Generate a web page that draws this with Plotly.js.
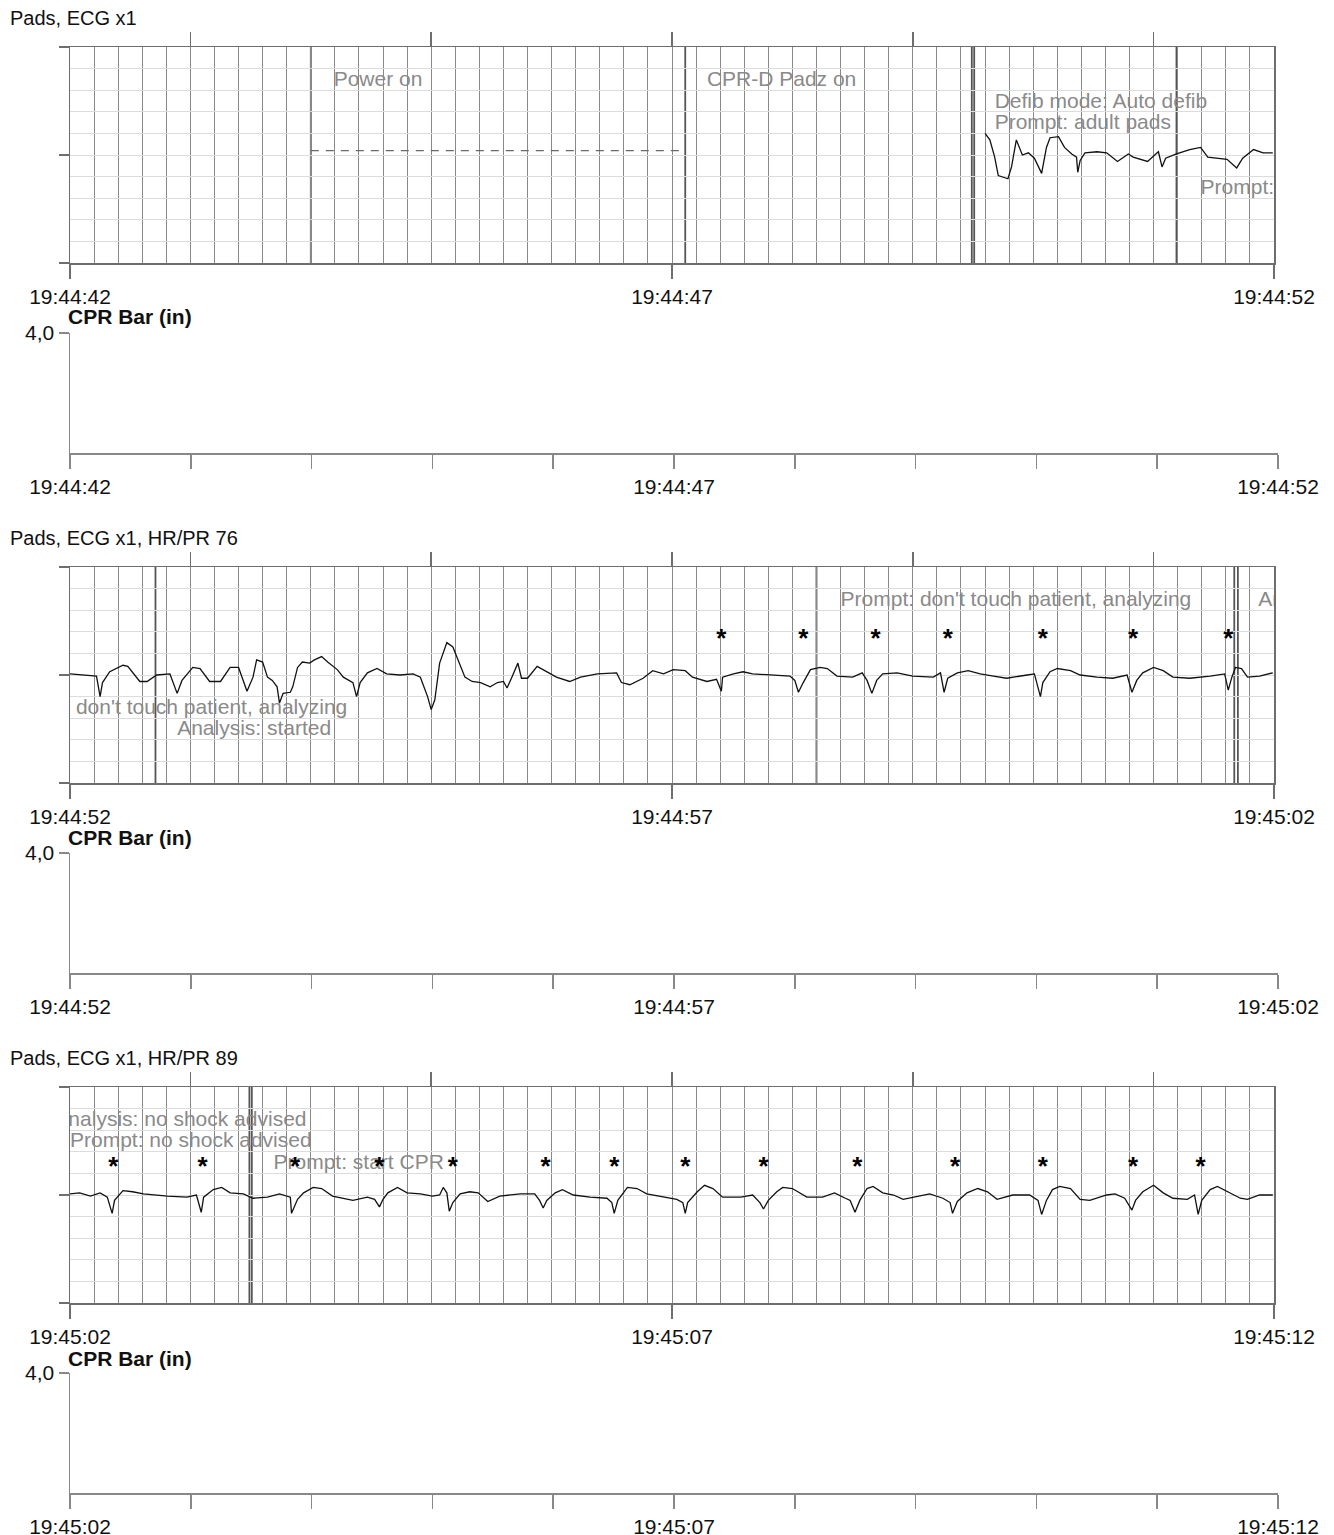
<!DOCTYPE html>
<html>
<head>
<meta charset="utf-8">
<script src="https://cdn.plot.ly/plotly-3.0.1.min.js"></script>
<style>
  html, body { margin: 0; padding: 0; background: #fff; }
  #chart { width: 1334px; height: 1535px; }
</style>
</head>
<body>
<div id="chart"></div>
<script>
// Three 10-second strips; time is seconds from the strip start, ECG in grid units.

// ---------- Strip 1 : 19:44:42 - 19:44:52 ----------
const strip1Labels = ['19:44:42', '19:44:47', '19:44:52'];
const ecg1Time = [7.60,7.64,7.68,7.71,7.79,7.82,7.86,7.87,7.91,7.96,
                  8.01,8.07,8.11,8.14,8.21,8.26,8.32,8.36,8.37,8.39,
                  8.43,8.53,8.61,8.70,8.79,8.83,8.95,9.03,9.04,9.07,
                  9.10,9.19,9.30,9.39,9.45,9.61,9.69,9.74,9.83,9.91,9.99];
const ecg1Value = [0.20,0.14,-0.02,-0.19,-0.22,-0.11,0.14,0.11,0.00,0.02,
                   -0.03,-0.17,0.07,0.16,0.17,0.07,0.01,-0.02,-0.16,-0.05,
                   0.02,0.03,0.02,-0.06,0.01,-0.02,-0.06,0.02,0.03,-0.11,
                   -0.03,0.01,0.05,0.07,-0.02,-0.04,-0.12,-0.03,0.05,0.02,0.02];
const strip1Events = [2.00, 5.11, 7.49, 7.51, 9.19];
const strip1NoteText = ['Power on', 'CPR-D Padz on', 'Defib mode: Auto defib', 'Prompt: adult pads',
                        "Prompt: don't touch patient, analyzing"];
const strip1NoteTime = [2.19, 5.29, 7.68, 7.68, 9.39];
const strip1NoteLevel = [0.69, 0.69, 0.48, 0.29, -0.31];
const strip1BeatTime = [];
const padsPendingTime = [2.00, 5.09];
const padsPendingLevel = [0.04, 0.04];

// ---------- Strip 2 : 19:44:52 - 19:45:02 ----------
const strip2Labels = ['19:44:52', '19:44:57', '19:45:02'];
const ecg2Time = [0.00,0.22,0.25,0.27,0.33,0.44,0.48,0.58,0.64,0.72,
                  0.83,0.89,0.93,1.02,1.08,1.16,1.25,1.33,1.40,1.47,
                  1.52,1.55,1.60,1.64,1.68,1.72,1.74,1.77,1.83,1.85,
                  1.89,1.93,1.99,2.03,2.09,2.14,2.22,2.27,2.35,2.38,
                  2.41,2.47,2.55,2.63,2.74,2.85,2.91,2.97,3.00,3.03,
                  3.07,3.13,3.18,3.22,3.28,3.34,3.41,3.49,3.55,3.60,
                  3.63,3.67,3.72,3.75,3.80,3.88,3.96,4.04,4.15,4.24,
                  4.38,4.54,4.58,4.65,4.76,4.84,4.93,5.01,5.11,5.17,
                  5.29,5.37,5.41,5.42,5.51,5.59,5.67,5.84,5.98,6.02,
                  6.05,6.09,6.15,6.23,6.29,6.37,6.50,6.58,6.62,6.66,
                  6.70,6.75,6.87,7.00,7.17,7.23,7.26,7.29,7.37,7.46,
                  7.56,7.67,7.78,7.95,8.01,8.06,8.08,8.14,8.20,8.31,
                  8.39,8.53,8.66,8.78,8.82,8.86,8.91,9.00,9.08,9.16,
                  9.30,9.47,9.59,9.62,9.65,9.68,9.73,9.78,9.88,9.99];
const ecg2Value = [0.01,-0.01,-0.20,-0.07,0.03,0.09,0.08,-0.06,-0.06,0.00,
                   0.01,-0.17,-0.05,0.07,0.06,-0.06,-0.06,0.07,0.07,-0.15,
                   -0.02,0.14,0.12,-0.02,-0.05,-0.11,-0.26,-0.17,-0.16,-0.11,
                   0.07,0.12,0.11,0.14,0.17,0.12,0.05,-0.02,-0.07,-0.20,
                   -0.07,0.02,0.06,0.01,0.00,0.01,-0.02,-0.20,-0.32,-0.23,
                   0.11,0.30,0.26,0.14,-0.02,-0.06,-0.07,-0.11,-0.07,-0.06,
                   -0.12,-0.02,0.11,-0.03,-0.03,0.08,0.03,-0.02,-0.06,-0.02,
                   0.01,0.02,-0.07,-0.09,-0.03,0.04,0.01,0.05,0.04,-0.02,
                   -0.06,-0.04,-0.15,-0.02,0.01,0.03,0.01,0.00,-0.01,-0.05,
                   -0.16,-0.07,0.05,0.07,0.06,-0.01,-0.02,0.02,-0.05,-0.17,
                   -0.05,0.01,0.02,-0.01,-0.02,0.02,-0.16,-0.03,0.02,0.04,
                   0.01,-0.01,-0.03,0.00,0.01,-0.20,-0.07,0.03,0.06,0.04,
                   0.00,-0.02,-0.03,0.00,-0.16,-0.05,0.02,0.07,0.04,-0.02,
                   -0.03,-0.01,0.01,-0.14,-0.02,0.07,0.06,-0.02,-0.01,0.02];
const strip2Events = [0.71, 6.20, 9.67, 9.70];
const strip2NoteText = ["Prompt: don't touch patient, analyzing", 'Analysis: started',
                        "Prompt: don't touch patient, analyzing", 'Analysis: no shock advised'];
const strip2NoteTime = [-0.61, 0.89, 6.40, 9.87];
const strip2NoteLevel = [-0.31, -0.51, 0.69, 0.69];
const strip2BeatTime = [5.41, 6.09, 6.69, 7.29, 8.08, 8.83, 9.62];

// ---------- Strip 3 : 19:45:02 - 19:45:12 ----------
const strip3Labels = ['19:45:02', '19:45:07', '19:45:12'];
const ecg3Time = [0.00,0.08,0.17,0.25,0.31,0.35,0.37,0.44,0.52,0.61,
                  0.81,0.97,1.05,1.09,1.11,1.19,1.26,1.33,1.44,1.52,
                  1.64,1.74,1.83,1.84,1.89,1.94,2.02,2.09,2.18,2.35,
                  2.47,2.53,2.57,2.60,2.64,2.72,2.80,2.91,3.01,3.07,
                  3.10,3.13,3.15,3.18,3.24,3.32,3.39,3.47,3.57,3.74,
                  3.86,3.90,3.93,3.96,4.03,4.09,4.18,4.32,4.46,4.50,
                  4.52,4.55,4.63,4.71,4.79,4.90,5.04,5.09,5.11,5.13,
                  5.21,5.27,5.34,5.42,5.57,5.67,5.73,5.76,5.80,5.87,
                  5.92,6.00,6.12,6.25,6.35,6.44,6.48,6.52,6.56,6.62,
                  6.67,6.75,6.84,6.92,7.00,7.14,7.25,7.31,7.33,7.37,
                  7.45,7.54,7.62,7.70,7.83,7.97,8.04,8.07,8.11,8.16,
                  8.22,8.31,8.39,8.47,8.61,8.68,8.76,8.82,8.85,8.91,
                  9.00,9.08,9.16,9.28,9.34,9.37,9.40,9.47,9.53,9.63,
                  9.72,9.78,9.88,9.99];
const ecg3Value = [0.01,0.02,-0.01,0.02,-0.02,-0.17,-0.05,0.04,0.03,0.01,
                   -0.01,-0.02,0.00,-0.16,-0.02,0.05,0.07,0.02,0.01,-0.03,
                   -0.02,0.01,-0.02,-0.17,-0.04,0.02,0.07,0.06,-0.01,-0.05,
                   -0.02,-0.04,-0.11,-0.04,0.02,0.07,0.02,0.01,-0.01,0.00,
                   0.07,0.02,-0.15,-0.07,0.01,0.03,0.02,-0.06,-0.01,0.01,
                   0.01,-0.05,-0.12,-0.05,0.02,0.05,0.00,-0.02,-0.03,-0.07,
                   -0.17,-0.05,0.07,0.06,0.01,-0.01,-0.04,-0.07,-0.17,-0.07,
                   0.03,0.09,0.06,-0.02,-0.02,0.00,-0.07,-0.13,-0.05,0.03,
                   0.07,0.06,-0.02,-0.02,0.02,-0.03,-0.05,-0.16,-0.05,0.06,
                   0.08,0.02,0.00,-0.04,-0.02,0.01,-0.03,-0.07,-0.17,-0.06,
                   0.02,0.06,0.03,-0.04,0.00,0.00,-0.05,-0.18,-0.05,0.05,
                   0.08,0.06,-0.04,-0.05,0.00,0.01,-0.03,-0.14,-0.05,0.03,
                   0.09,0.02,-0.03,-0.04,0.00,-0.18,-0.05,0.05,0.08,0.02,
                   -0.03,-0.04,0.00,0.00];
const strip3Events = [1.49, 1.51];
const strip3NoteText = ['Analysis: no shock advised', 'Prompt: no shock advised', 'Prompt: start CPR'];
const strip3NoteTime = [-0.13, 0.00, 1.69];
const strip3NoteLevel = [0.69, 0.49, 0.29];
const strip3BeatTime = [0.36, 1.10, 1.87, 2.57, 3.18, 3.95, 4.52, 5.11, 5.76, 6.54, 7.35, 8.08, 8.83, 9.39];

// Strip headers
const stripTitles = ['Pads, ECG x1', 'Pads, ECG x1, HR/PR 76', 'Pads, ECG x1, HR/PR 89'];
const cprTitle = 'CPR Bar (in)';
const cprTopLabel = '4,0';

// ---------- drawing ----------
const FONT = '"Liberation Sans", Arial, Helvetica, sans-serif';
const W = 1334, H = 1535;
const fx = p => p / W;
const fy = p => 1 - p / H;

const LINE_GRAY = '#6e6e6e';
const GRID_V = '#888888';
const GRID_H = '#dcdcdc';
const NOTE_GRAY = '#8a8a8a';

const strips = [
  {ecgTop: 47,   cprTop: 333,  titleY: 18,   cprTitleY: 317,  labels: strip1Labels,
   t: ecg1Time, v: ecg1Value, events: strip1Events,
   notes: [strip1NoteTime, strip1NoteLevel, strip1NoteText], beats: strip1BeatTime, beatLevel: 0.32},
  {ecgTop: 567,  cprTop: 853,  titleY: 538,  cprTitleY: 837,  labels: strip2Labels,
   t: ecg2Time, v: ecg2Value, events: strip2Events,
   notes: [strip2NoteTime, strip2NoteLevel, strip2NoteText], beats: strip2BeatTime, beatLevel: 0.32},
  {ecgTop: 1087, cprTop: 1373, titleY: 1058, cprTitleY: 1358, labels: strip3Labels,
   t: ecg3Time, v: ecg3Value, events: strip3Events,
   notes: [strip3NoteTime, strip3NoteLevel, strip3NoteText], beats: strip3BeatTime, beatLevel: 0.25}
];

const data = [];
const layout = {
  width: W, height: H,
  margin: {l: 0, r: 0, t: 0, b: 0, pad: 0},
  paper_bgcolor: '#ffffff',
  plot_bgcolor: 'rgba(0,0,0,0)',
  showlegend: false,
  font: {family: FONT, size: 21, color: '#111'},
  shapes: [],
  annotations: []
};

const axKey = (letter, n) => letter + 'axis' + (n === 1 ? '' : n);
const axId = (letter, n) => letter + (n === 1 ? '' : n);

strips.forEach((s, i) => {
  const ecgN = 2 * i + 1;
  const cprN = 2 * i + 2;
  const topN = 7 + i;
  const xE = axId('x', ecgN), yE = axId('y', ecgN);
  const xC = axId('x', cprN), yC = axId('y', cprN);
  const xT = axId('x', topN);

  // ECG panel
  layout[axKey('x', ecgN)] = {
    domain: [fx(70), fx(1274)], anchor: yE, range: [0, 10],
    tickmode: 'array', tickvals: [0, 5, 10], ticktext: s.labels,
    ticks: 'outside', ticklen: 14, tickwidth: 1.5, tickcolor: LINE_GRAY,
    tickfont: {family: FONT, size: 21, color: '#111'},
    showline: true, linecolor: LINE_GRAY, linewidth: 1.5, mirror: true,
    showgrid: true, gridcolor: GRID_V, gridwidth: 1,
    minor: {tickmode: 'linear', tick0: 0, dtick: 0.2, showgrid: true, gridcolor: GRID_V, gridwidth: 1, ticks: ''},
    zeroline: false, fixedrange: true
  };
  layout[axKey('y', ecgN)] = {
    domain: [fy(s.ecgTop + 216), fy(s.ecgTop)], anchor: xE, range: [-1, 1],
    tickmode: 'array', tickvals: [-1, 0, 1], showticklabels: false,
    ticks: 'outside', ticklen: 10, tickwidth: 1.5, tickcolor: LINE_GRAY,
    showline: true, linecolor: LINE_GRAY, linewidth: 1.5, mirror: true,
    showgrid: true, gridcolor: GRID_H, gridwidth: 1,
    minor: {tickmode: 'linear', tick0: -1, dtick: 0.2, showgrid: true, gridcolor: GRID_H, gridwidth: 1, ticks: ''},
    zeroline: false, fixedrange: true
  };
  // second-mark ticks along the top edge
  layout[axKey('x', topN)] = {
    overlaying: xE, anchor: yE, side: 'top', domain: [fx(70), fx(1274)], range: [0, 10],
    tickmode: 'array', tickvals: [1, 3, 5, 7, 9], showticklabels: false,
    ticks: 'outside', ticklen: 14, tickwidth: 1.5, tickcolor: LINE_GRAY,
    showline: false, showgrid: false, zeroline: false, fixedrange: true
  };

  // event markers (vertical rules)
  s.events.forEach(t => {
    layout.shapes.push({type: 'line', xref: xE, yref: 'paper', x0: t, x1: t,
      y0: fy(s.ecgTop + 216), y1: fy(s.ecgTop),
      line: {color: '#555555', width: 1.8}, layer: 'below'});
  });

  data.push({type: 'scatter', mode: 'lines', x: s.t, y: s.v, xaxis: xE, yaxis: yE,
    line: {color: '#111', width: 1.3}, hoverinfo: 'skip'});

  if (i === 0) {
    data.push({type: 'scatter', mode: 'lines', x: padsPendingTime, y: padsPendingLevel, xaxis: xE, yaxis: yE,
      line: {color: '#6a6a6a', width: 1.3, dash: '8px,7px'}, hoverinfo: 'skip'});
  }

  data.push({type: 'scatter', mode: 'text', x: s.notes[0], y: s.notes[1], text: s.notes[2],
    xaxis: xT, yaxis: yE, textposition: 'middle right', cliponaxis: true,
    textfont: {family: FONT, size: 21, color: NOTE_GRAY}, hoverinfo: 'skip'});

  if (s.beats.length) {
    data.push({type: 'scatter', mode: 'text', x: s.beats, y: s.beats.map(() => s.beatLevel),
      text: s.beats.map(() => '*'), xaxis: xT, yaxis: yE, textposition: 'middle center', cliponaxis: true,
      textfont: {family: FONT, size: 26, color: '#000', weight: 'bold'}, hoverinfo: 'skip'});
  }

  // CPR panel (no compressions recorded)
  const cprTickText = [0,1,2,3,4,5,6,7,8,9,10].map(k => k === 0 ? s.labels[0] : k === 5 ? s.labels[1] : k === 10 ? s.labels[2] : '');
  layout[axKey('x', cprN)] = {
    domain: [fx(70), fx(1278)], anchor: yC, range: [0, 10],
    tickmode: 'array', tickvals: [0,1,2,3,4,5,6,7,8,9,10], ticktext: cprTickText,
    ticks: 'outside', ticklen: 14, tickwidth: 1.5, tickcolor: '#888',
    tickfont: {family: FONT, size: 21, color: '#111'},
    showline: true, linecolor: '#888', linewidth: 1.5,
    showgrid: false, zeroline: false, fixedrange: true
  };
  layout[axKey('y', cprN)] = {
    domain: [fy(s.cprTop + 120), fy(s.cprTop)], anchor: xC, range: [0, 4],
    tickmode: 'array', tickvals: [4], ticktext: [cprTopLabel],
    ticks: 'outside', ticklen: 10, tickwidth: 1.5, tickcolor: '#888',
    tickfont: {family: FONT, size: 21, color: '#111'},
    showline: true, linecolor: '#888', linewidth: 1.5,
    showgrid: false, zeroline: false, fixedrange: true
  };
  data.push({type: 'scatter', mode: 'lines', x: [0], y: [null], xaxis: xC, yaxis: yC, name: cprTitle, hoverinfo: 'skip'});

  layout.annotations.push({xref: 'paper', yref: 'paper', x: fx(8), y: fy(s.titleY),
    xanchor: 'left', yanchor: 'middle', showarrow: false, text: stripTitles[i],
    font: {family: FONT, size: 20, color: '#111'}});
  layout.annotations.push({xref: 'paper', yref: 'paper', x: fx(66), y: fy(s.cprTitleY),
    xanchor: 'left', yanchor: 'middle', showarrow: false, text: '<b>' + cprTitle + '</b>',
    font: {family: FONT, size: 21, color: '#111'}});
});

Plotly.newPlot('chart', data, layout, {staticPlot: true, displayModeBar: false});
</script>
</body>
</html>
